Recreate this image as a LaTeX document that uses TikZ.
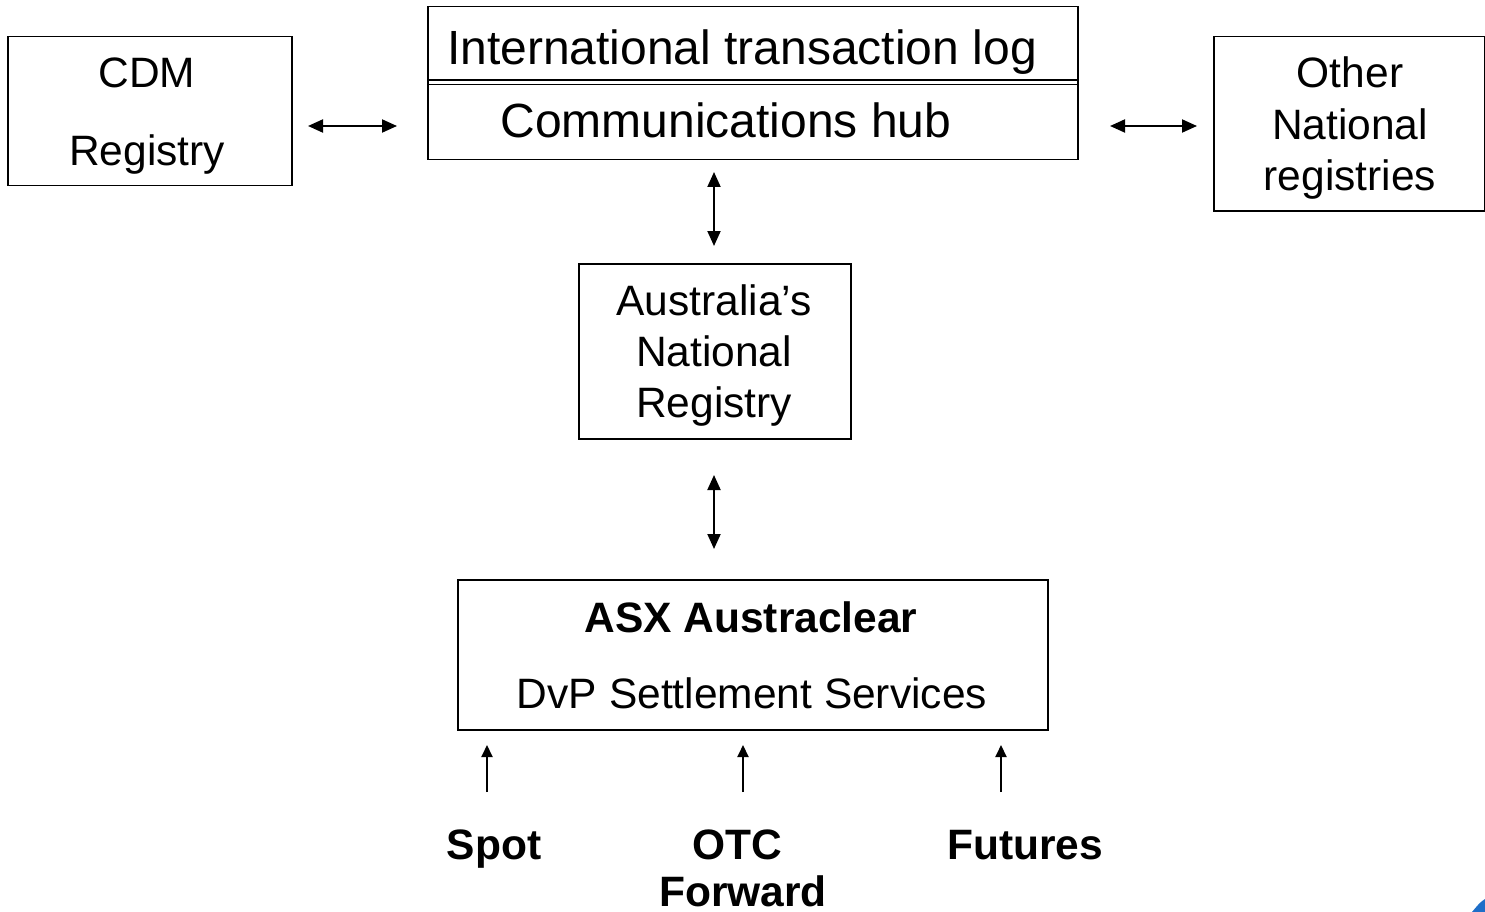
\documentclass[tikz,border=0pt]{standalone}
\usepackage{fontspec}
\setmainfont{Liberation Sans}
\usetikzlibrary{arrows.meta}
\definecolor{logoblue}{RGB}{30,110,200}
\begin{document}
\begin{tikzpicture}[x=1pt,y=-1pt,
  box/.style={draw=black, line width=1.5pt, inner sep=0pt, anchor=north west},
  lbl/.style={anchor=base, inner sep=0pt, font=\fontsize{42.5}{50}\selectfont},
  big/.style={anchor=base, inner sep=0pt, font=\fontsize{48}{56}\selectfont},
  bl/.style={anchor=base, inner sep=0pt, font=\fontsize{42.5}{50}\selectfont\bfseries},
  conn/.style={line width=2pt, {Triangle[length=15pt,width=13pt]}-{Triangle[length=15pt,width=13pt]}},
  up/.style={line width=2pt, -{Triangle[length=12pt,width=11pt]}}]
\useasboundingbox (0,0) rectangle (1485,912);

% boxes
\node[box, minimum width=284, minimum height=149] (cdm) at (7,36) {};
\node[box, minimum width=650, minimum height=153] (itl) at (427,6) {};
\node[box, minimum width=271, minimum height=174] (other) at (1213,36) {};
\node[box, minimum width=272, minimum height=175] (aus) at (578,263) {};
\node[box, minimum width=590, minimum height=150] (asx) at (457,579) {};

% double divider in top box
\draw[line width=1.2pt] (itl.west |- 0,80) -- (itl.east |- 0,80);
\draw[line width=1.2pt] (itl.west |- 0,84.5) -- (itl.east |- 0,84.5);

% texts
\node[lbl] (cdm1) at (147,88) {CDM};
\node[lbl] (cdm2) at (147,166) {Registry};
\node[big] (itl1) at (742,65) {International transaction log};
\node[big] (itl2) at (726,138) {Communications hub};
\node[lbl] (oth1) at (1350,88) {Other};
\node[lbl] (oth2) at (1350,140) {National};
\node[lbl] (oth3) at (1350,191) {registries};
\node[lbl] (aus1) at (714,315) {Australia’s};
\node[lbl] (aus2) at (714,366) {National};
\node[lbl] (aus3) at (714,417) {Registry};
\node[bl] (asx1) at (751,632) {ASX Austraclear};
\node[lbl] (asx2) at (752,708) {DvP Settlement Services};
\node[bl] (spot) at (494,859) {Spot};
\node[bl] (otc) at (737,859) {OTC};
\node[bl] (fwd) at (743,906) {Forward};
\node[bl] (fut) at (1025,859) {Futures};

% connectors
\coordinate (l1) at (308,126); \coordinate (l2) at (397,126);
\coordinate (r1) at (1110,126); \coordinate (r2) at (1197,126);
\coordinate (v1) at (714,172); \coordinate (v2) at (714,246);
\coordinate (w1) at (714,475); \coordinate (w2) at (714,549);
\draw[conn] (l1) -- (l2);
\draw[conn] (r1) -- (r2);
\draw[conn] (v1) -- (v2);
\draw[conn] (w1) -- (w2);

\coordinate (s0) at (487,792); \coordinate (s1) at (487,745);
\coordinate (o0) at (743,792); \coordinate (o1) at (743,745);
\coordinate (f0) at (1001,792); \coordinate (f1) at (1001,745);
\draw[up] (s0) -- (s1);
\draw[up] (o0) -- (o1);
\draw[up] (f0) -- (f1);

% corner logo fragment
\fill[logoblue] (1472,912) .. controls (1477,906) and (1480,902) .. (1485,899) -- (1485,912) -- cycle;
\end{tikzpicture}
\end{document}
